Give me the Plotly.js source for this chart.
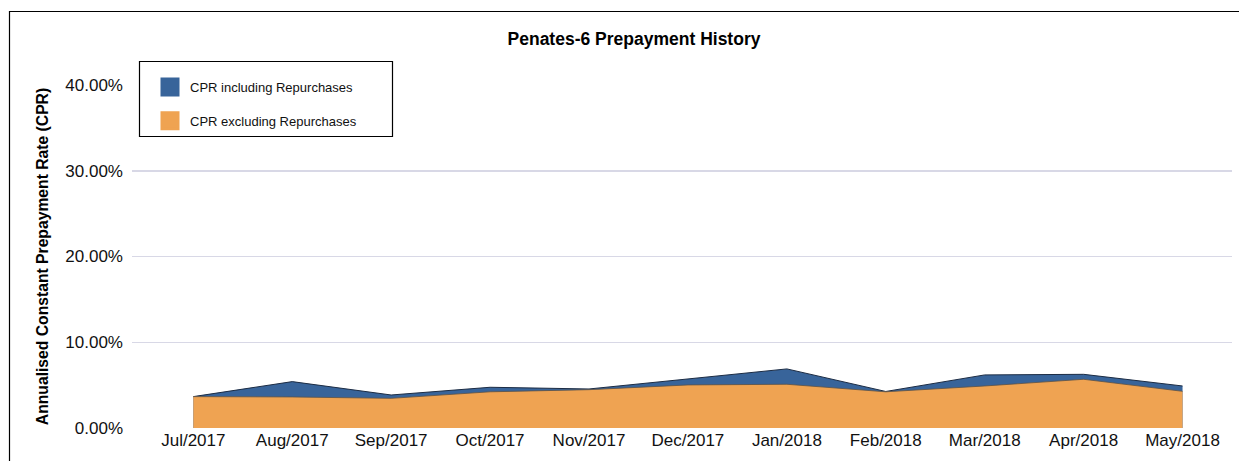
<!DOCTYPE html>
<html>
<head>
<meta charset="utf-8">
<script src="https://cdn.plot.ly/plotly-3.0.1.min.js"></script>
<style>html,body{margin:0;padding:0;background:#fff;}#chart{width:1239px;height:461px;}</style>
</head>
<body>
<div id="chart"></div>
<script>
const months = ["Jul/2017","Aug/2017","Sep/2017","Oct/2017","Nov/2017","Dec/2017","Jan/2018","Feb/2018","Mar/2018","Apr/2018","May/2018"];
const cprIncluding = [3.66, 5.41, 3.85, 4.75, 4.55, 5.75, 6.89, 4.26, 6.19, 6.26, 4.90];
const cprExcluding = [3.66, 3.62, 3.46, 4.22, 4.47, 5.02, 5.10, 4.22, 4.90, 5.68, 4.28];
const seriesNames = ["CPR including Repurchases", "CPR excluding Repurchases"];
const yTicks = [0, 10, 20, 30, 40];

const blue = "#38649a", orange = "#efa352";

const traces = [
  {x: months, y: cprIncluding, type: "scatter", mode: "lines", fill: "tozeroy",
   fillcolor: blue, line: {color: "#1c2c44", width: 1}, showlegend: false, hoverinfo: "skip"},
  {x: months, y: cprExcluding, type: "scatter", mode: "lines", fill: "tozeroy",
   fillcolor: orange, line: {color: "#5a5248", width: 0.8}, showlegend: false, hoverinfo: "skip"},
  {x: [null], y: [null], type: "scatter", mode: "markers", name: seriesNames[0], legendgroup: "a",
   marker: {symbol: "square", size: 20, color: blue, line: {width: 3, color: blue}}},
  {x: [null], y: [null], type: "scatter", mode: "markers", name: seriesNames[1], legendgroup: "b",
   marker: {symbol: "square", size: 20, color: orange, line: {width: 3, color: orange}}}
];

const L = 132, R = 1232, T = 85, B = 428, W = 1239, H = 461;
const pw = R - L, ph = B - T;
const px = v => (v - L) / pw;
const py = v => (B - v) / ph;

const layout = {
  width: W, height: H,
  margin: {l: L, r: W - R, t: T, b: H - B, pad: 0},
  paper_bgcolor: "#fff", plot_bgcolor: "#fff",
  font: {family: "Liberation Sans, Arial, sans-serif", color: "#111"},
  title: {text: "<b>Penates-6 Prepayment History</b>", font: {size: 17.5, color: "#000"},
          x: 634 / W, xref: "container", xanchor: "center", y: 1 - 39 / H, yref: "container", yanchor: "middle"},
  xaxis: {type: "category", range: [-0.62, 10.5], showgrid: false, zeroline: false,
          showline: false, ticks: "", tickfont: {size: 17, color: "#111"}, fixedrange: true},
  yaxis: {range: [0, 40], tickvals: yTicks, ticktext: yTicks.map(v => v.toFixed(2) + "%"),
          showgrid: true, gridcolor: "#d8d8e6", gridwidth: 1.5, zeroline: false, showline: false,
          ticks: "", ticklabelstandoff: 8, tickfont: {size: 17, color: "#111"}, fixedrange: true,
          title: {text: "<b>Annualised Constant Prepayment Rate (CPR)</b>", font: {size: 15.7, color: "#000"}, standoff: 12}},
  legend: {x: px(150), y: py(72), xanchor: "left", yanchor: "top", bgcolor: "rgba(0,0,0,0)",
           borderwidth: 0, font: {size: 13, color: "#111"},
           itemsizing: "trace", tracegroupgap: 14},
  shapes: [
    {type: "rect", xref: "paper", yref: "paper", x0: px(9.5), x1: px(1260), y0: py(480), y1: py(11.5),
     line: {color: "#000", width: 1.2}, fillcolor: "rgba(0,0,0,0)", layer: "below"},
    {type: "rect", xref: "paper", yref: "paper", x0: px(139.5), x1: px(392.5), y0: py(136.5), y1: py(61.5),
     line: {color: "#000", width: 1.2}, fillcolor: "#fff", layer: "above"}
  ],
  showlegend: true
};

Plotly.newPlot("chart", traces, layout, {displayModeBar: false, staticPlot: true});
</script>
</body>
</html>
